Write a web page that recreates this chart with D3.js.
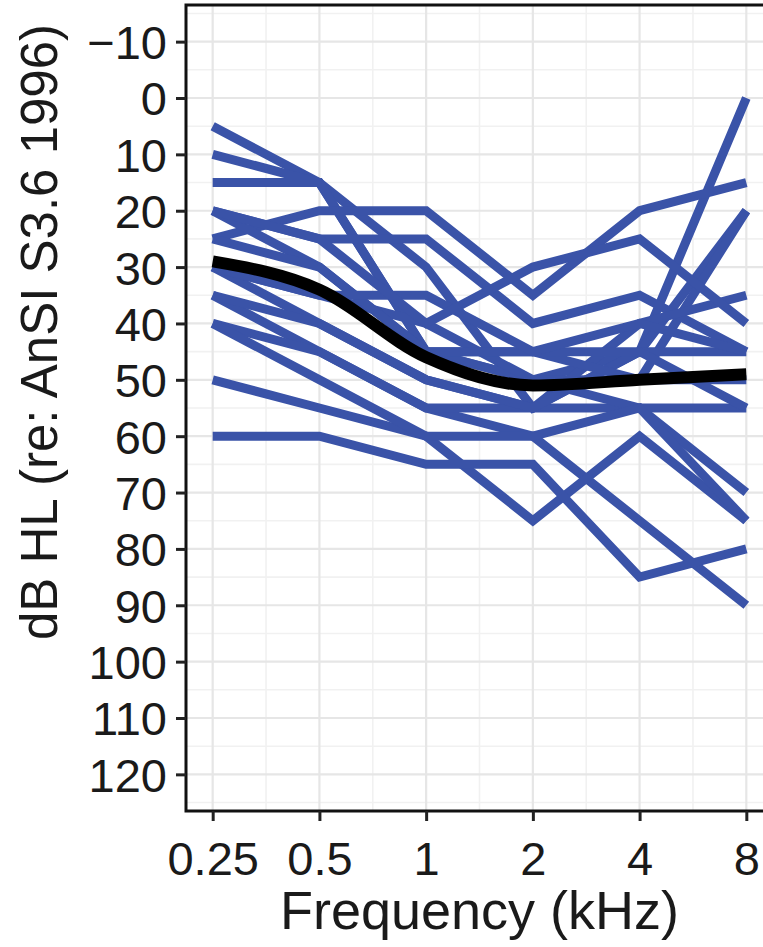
<!DOCTYPE html>
<html>
<head>
<meta charset="utf-8">
<script src="https://cdn.jsdelivr.net/npm/d3@7"></script>
<style>
  html, body { margin: 0; padding: 0; background: #fff; }
  svg { display: block; }
  text { font-family: "Liberation Sans", Arial, Helvetica, sans-serif; fill: #1a1a1a; }
</style>
</head>
<body>
<svg id="chart" width="763" height="947"></svg>
<script>
// ---- data ----
const frequencies = [0.25, 0.5, 1, 2, 4, 8];
const xTickLabels = ["0.25", "0.5", "1", "2", "4", "8"];
const yTicks = [-10, 0, 10, 20, 30, 40, 50, 60, 70, 80, 90, 100, 110, 120];

const listener01 = [5, 15, 45, 50, 45, 0];
const listener02 = [10, 15, 30, 55, 45, 20];
const listener03 = [15, 15, 45, 50, 50, 20];
const listener04 = [20, 25, 25, 40, 35, 45];
const listener05 = [25, 20, 20, 35, 20, 15];
const listener06 = [30, 40, 50, 55, 55, 70];
const listener07 = [35, 45, 55, 60, 75, 90];
const listener08 = [40, 45, 55, 55, 40, 35];
const listener09 = [50, 55, 60, 75, 60, 75];
const listener10 = [60, 60, 65, 65, 85, 80];
const listener11 = [30, 35, 40, 50, 55, 55];
const listener12 = [35, 40, 50, 55, 45, 45];
const listener13 = [20, 30, 45, 45, 50, 50];
const listener14 = [25, 30, 45, 45, 45, 55];
const listener15 = [40, 50, 60, 60, 55, 75];
const listener16 = [30, 35, 35, 45, 40, 45];
const listener17 = [20, 25, 40, 30, 25, 40];
const meanThreshold = [29, 34, 46, 51, 50, 49];

const listeners = [listener01, listener02, listener03, listener04, listener05, listener06,
  listener07, listener08, listener09, listener10, listener11, listener12, listener13,
  listener14, listener15, listener16, listener17];

// ---- layout ----
const svg = d3.select("#chart");
const panel = { left: 186, right: 773, top: 5, bottom: 811 };

const x = d3.scaleLog().base(2)
  .domain([0.25 * Math.pow(2, -0.25), 8 * Math.pow(2, 0.25)])
  .range([panel.left, panel.right]);
const y = d3.scaleLinear()
  .domain([-16.5, 126.5])
  .range([panel.top, panel.bottom]);

svg.append("rect").attr("x", 0).attr("y", 0).attr("width", 763).attr("height", 947).attr("fill", "#fff");

svg.append("defs").append("clipPath").attr("id", "clip")
  .append("rect").attr("x", panel.left).attr("y", panel.top)
  .attr("width", panel.right - panel.left).attr("height", panel.bottom - panel.top);

const grid = svg.append("g").attr("clip-path", "url(#clip)");
const xMinor = d3.range(0, frequencies.length + 1).map(i => 0.25 * Math.pow(2, i - 0.5));
const yMinor = d3.range(-15, 130, 10);
grid.selectAll(".xminor").data(xMinor).enter().append("line")
  .attr("x1", d => x(d)).attr("x2", d => x(d)).attr("y1", panel.top).attr("y2", panel.bottom)
  .attr("stroke", "#f1f1f1").attr("stroke-width", 1.6);
grid.selectAll(".yminor").data(yMinor).enter().append("line")
  .attr("y1", d => y(d)).attr("y2", d => y(d)).attr("x1", panel.left).attr("x2", panel.right)
  .attr("stroke", "#f1f1f1").attr("stroke-width", 1.6);
grid.selectAll(".xmajor").data(frequencies).enter().append("line")
  .attr("x1", d => x(d)).attr("x2", d => x(d)).attr("y1", panel.top).attr("y2", panel.bottom)
  .attr("stroke", "#e6e6e6").attr("stroke-width", 2.2);
grid.selectAll(".ymajor").data(yTicks).enter().append("line")
  .attr("y1", d => y(d)).attr("y2", d => y(d)).attr("x1", panel.left).attr("x2", panel.right)
  .attr("stroke", "#e6e6e6").attr("stroke-width", 2.2);

// lines
const line = d3.line().x((d, i) => x(frequencies[i])).y(d => y(d));
const plot = svg.append("g").attr("clip-path", "url(#clip)");
plot.selectAll(".listener").data(listeners).enter().append("path")
  .attr("d", line).attr("fill", "none").attr("stroke", "#3a53a8")
  .attr("stroke-width", 9).attr("stroke-linejoin", "miter").attr("stroke-linecap", "butt");

const meanLine = d3.line().x((d, i) => x(frequencies[i])).y(d => y(d)).curve(d3.curveMonotoneX);
plot.append("path").attr("d", meanLine(meanThreshold)).attr("fill", "none")
  .attr("stroke", "#000").attr("stroke-width", 12);

// panel border
svg.append("rect").attr("x", panel.left).attr("y", panel.top)
  .attr("width", panel.right - panel.left).attr("height", panel.bottom - panel.top)
  .attr("fill", "none").attr("stroke", "#111").attr("stroke-width", 3);

// axes
const xAxis = d3.axisBottom(x).tickValues(frequencies).tickFormat((d, i) => xTickLabels[i])
  .tickSize(10).tickPadding(8);
const gx = svg.append("g").attr("transform", `translate(0,${panel.bottom})`).call(xAxis);
gx.select(".domain").remove();
gx.selectAll(".tick line").attr("stroke", "#222").attr("stroke-width", 3);
gx.selectAll(".tick text").attr("font-size", 47).attr("fill", "#1a1a1a")
  .attr("dy", null).attr("y", 64);

const yAxis = d3.axisLeft(y).tickValues(yTicks).tickFormat(d => d < 0 ? "\u2212" + Math.abs(d) : d)
  .tickSize(10).tickPadding(9);
const gy = svg.append("g").attr("transform", `translate(${panel.left},0)`).call(yAxis);
gy.select(".domain").remove();
gy.selectAll(".tick line").attr("stroke", "#222").attr("stroke-width", 3);
gy.selectAll(".tick text").attr("font-size", 47).attr("fill", "#1a1a1a").attr("dy", "0.36em");

// axis titles
svg.append("text").attr("x", (x(0.25) + x(8)) / 2).attr("y", 929)
  .attr("text-anchor", "middle").attr("font-size", 54).text("Frequency (kHz)");
svg.append("text").attr("transform", `translate(57,332) rotate(-90)`)
  .attr("text-anchor", "middle").attr("font-size", 51).text("dB HL (re: AnSI S3.6 1996)");
</script>
</body>
</html>
